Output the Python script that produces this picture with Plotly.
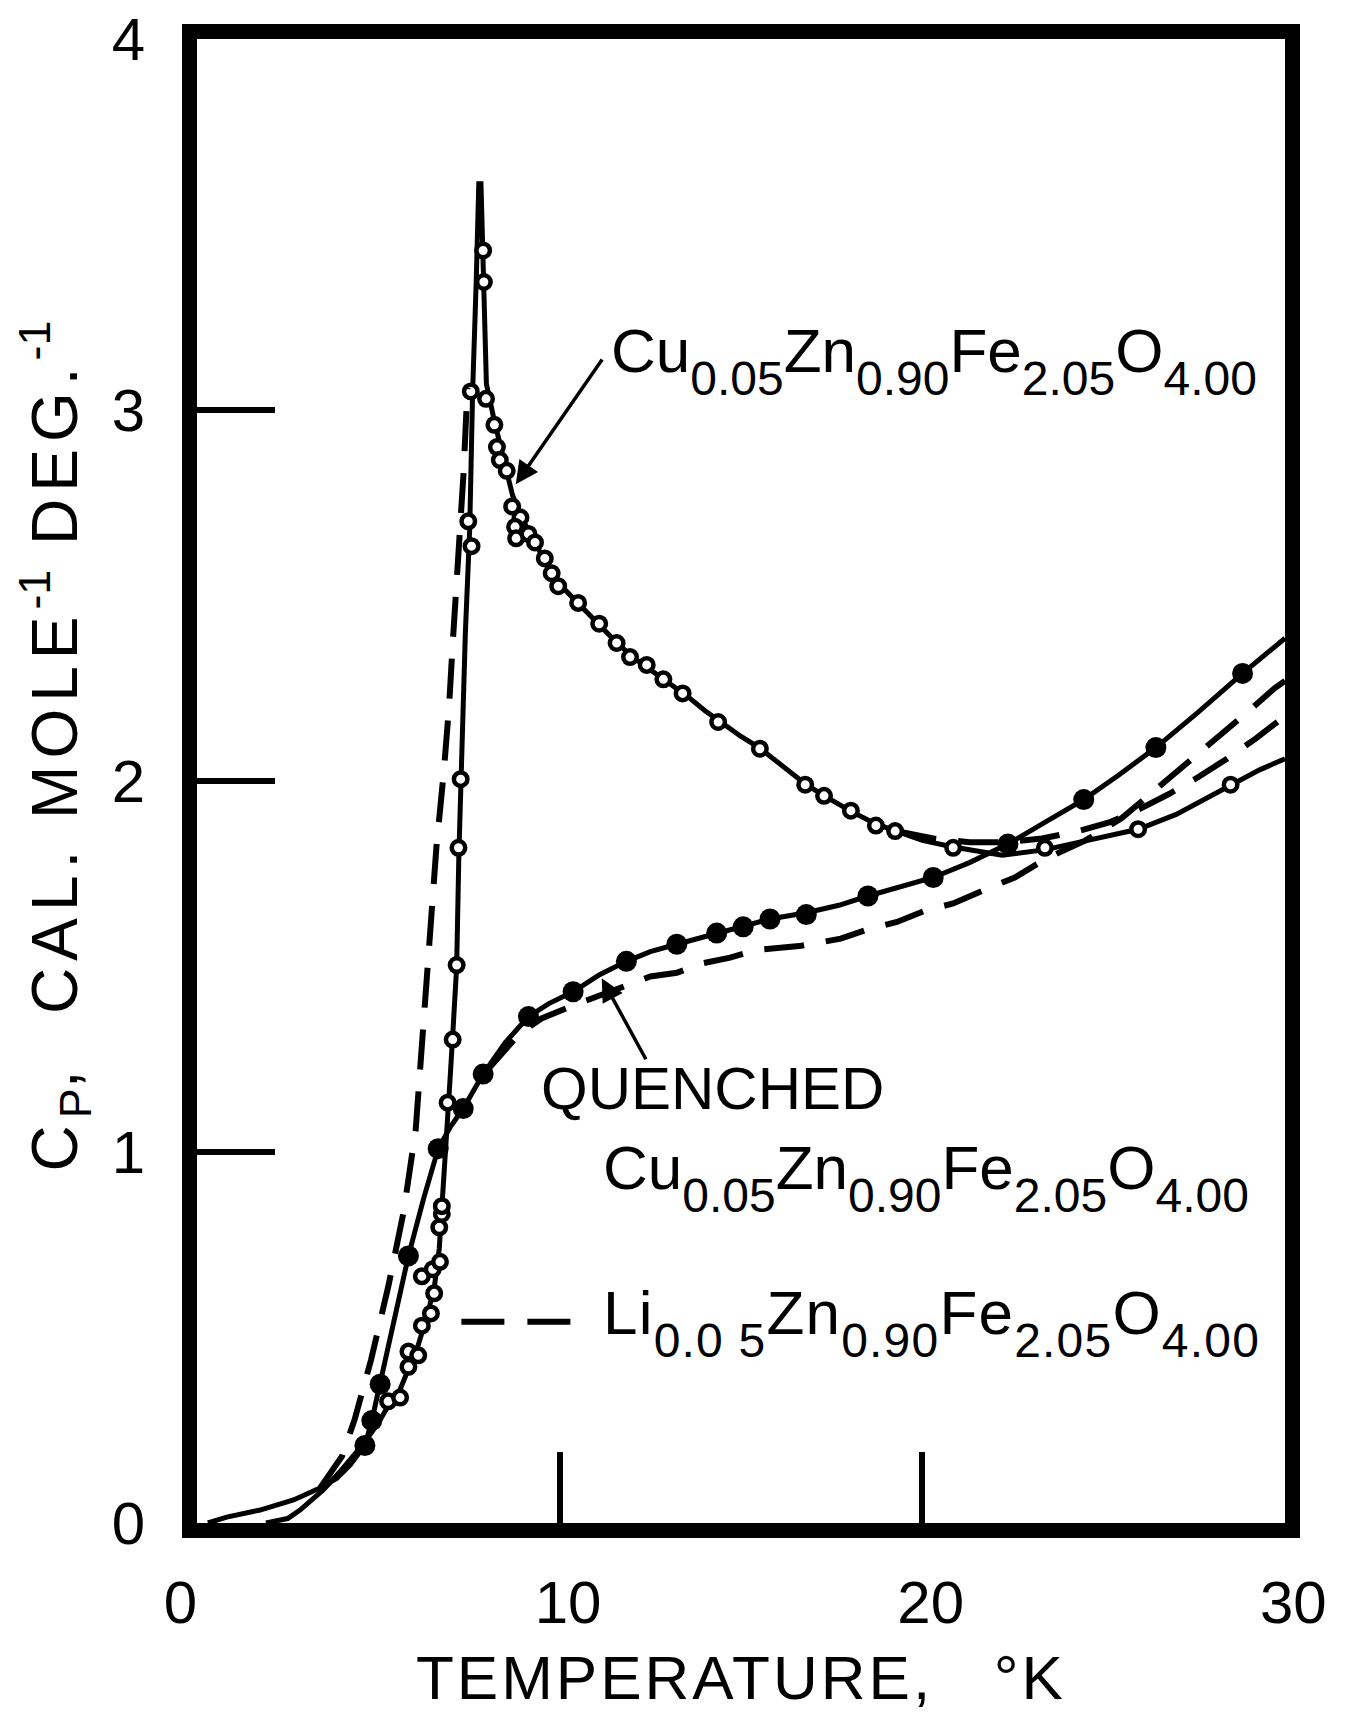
import plotly.graph_objects as go

# ---------------- data ----------------
# Cu0.05Zn0.90Fe2.05O4.00 (open circles) measured points
cu_slow_T = [5.27, 5.60, 5.83, 5.83, 6.10, 6.20, 6.20, 6.45, 6.54, 6.50, 6.70, 6.68, 6.75, 6.75,
             6.91, 7.05, 7.16, 7.21, 7.27, 7.48, 7.57, 7.55, 7.89, 7.91, 7.97, 8.20, 8.27, 8.35,
             8.54, 8.69, 8.92, 8.77, 8.80, 9.14, 9.32, 9.59, 9.78, 9.96, 10.51, 11.09, 11.57,
             11.94, 12.40, 12.86, 13.39, 14.37, 15.52, 16.77, 17.29, 18.03, 18.72, 19.25, 20.85,
             23.38, 25.95, 28.50]
cu_slow_Cp = [0.328, 0.338, 0.421, 0.462, 0.452, 0.532, 0.665, 0.565, 0.619, 0.684, 0.704, 0.797,
              0.833, 0.854, 1.133, 1.303, 1.504, 1.82, 2.005, 2.70, 2.633, 3.05, 3.43, 3.345, 3.03,
              2.96, 2.90, 2.865, 2.836, 2.74, 2.71, 2.685, 2.654, 2.666, 2.643, 2.60, 2.56, 2.525,
              2.48, 2.424, 2.372, 2.334, 2.313, 2.274, 2.236, 2.159, 2.087, 1.99, 1.96, 1.92, 1.88,
              1.865, 1.82, 1.82, 1.87, 1.99]

# Cu0.05Zn0.90Fe2.05O4.00 smooth curve
cu_slow_curve_T = [1.9, 2.5, 2.84, 3.48, 3.94, 4.22, 4.6, 5.0, 5.3, 5.6, 5.85, 6.1, 6.35, 6.55, 6.68,
                   6.78, 6.88, 6.98, 7.06, 7.16, 7.22, 7.27, 7.4, 7.52, 7.6, 7.7, 7.77, 7.83, 7.87,
                   7.92, 7.98, 8.2, 8.4, 8.7, 9.0, 9.5, 10.0, 10.5, 11.0, 11.5, 12.0, 12.5, 13.0,
                   13.5, 14.0, 14.5, 15.0, 15.5, 16.0, 16.8, 17.3, 18.0, 18.7, 19.25, 20.0, 20.85,
                   21.5, 22.2, 23.4, 24.5, 25.95, 27.0, 28.5, 29.3, 30.0]
cu_slow_curve_Cp = [0.0, 0.012, 0.035, 0.089, 0.138, 0.17, 0.215, 0.27, 0.32, 0.36, 0.42, 0.48, 0.56,
                    0.64, 0.74, 0.88, 1.05, 1.2, 1.33, 1.5, 1.8, 2.0, 2.4, 2.68, 3.05, 3.35, 3.61,
                    3.61, 3.45, 3.25, 3.07, 2.97, 2.89, 2.77, 2.70, 2.61, 2.53, 2.48, 2.43, 2.38,
                    2.335, 2.30, 2.265, 2.23, 2.19, 2.155, 2.12, 2.09, 2.05, 1.99, 1.96, 1.92, 1.885,
                    1.865, 1.84, 1.822, 1.81, 1.80, 1.815, 1.84, 1.87, 1.91, 1.99, 2.03, 2.06]

# Quenched Cu0.05Zn0.90Fe2.05O4.00 (filled circles)
cu_q_T = [4.63, 4.82, 5.05, 5.83, 6.65, 7.34, 7.89, 9.14, 10.37, 11.84, 13.23, 14.33, 15.06, 15.80,
          16.8, 18.5, 20.3, 22.36, 24.45, 26.44, 28.83]
cu_q_Cp = [0.209, 0.276, 0.374, 0.72, 1.009, 1.117, 1.21, 1.365, 1.432, 1.514, 1.56, 1.59, 1.607,
           1.628, 1.64, 1.69, 1.74, 1.83, 1.95, 2.09, 2.29]

cu_q_curve_T = [0.3, 0.82, 1.74, 2.66, 3.3, 3.85, 4.22, 4.63, 4.82, 5.05, 5.4, 5.83, 6.25, 6.65, 7.0,
                7.34, 7.89, 8.5, 9.14, 9.7, 10.37, 11.1, 11.84, 12.5, 13.23, 14.33, 15.06, 15.8,
                16.8, 17.7, 18.5, 19.4, 20.3, 21.3, 22.36, 23.4, 24.45, 25.4, 26.44, 27.6, 28.83, 30.0]
cu_q_curve_Cp = [0.0, 0.016, 0.035, 0.062, 0.09, 0.12, 0.156, 0.21, 0.276, 0.374, 0.53, 0.72, 0.875,
                 1.009, 1.07, 1.117, 1.21, 1.295, 1.365, 1.40, 1.432, 1.478, 1.514, 1.54, 1.56, 1.59,
                 1.607, 1.628, 1.645, 1.665, 1.69, 1.715, 1.74, 1.78, 1.83, 1.89, 1.95, 2.015, 2.09,
                 2.185, 2.29, 2.385]

# Li0.05Zn0.90Fe2.05O4.00 (dashed)
li_T = [3.40, 3.80, 4.00, 4.35, 4.80, 5.28, 5.70, 6.03, 6.20, 6.40, 6.60, 6.80, 6.95, 7.05, 7.20,
        7.35, 7.42, 7.46, None, 8.00, 8.90, 9.50, 10.50, 11.66, 12.50, 13.23, 13.95, 14.70, 15.44,
        16.60, 17.75, 18.50, 19.30, 20.07, 20.85, 21.80, 22.55, 23.40, 24.50, 25.50, 26.35, 27.13,
        27.81, 28.49, 28.98, 29.71, 30.0]
li_Cp = [0.095, 0.15, 0.18, 0.28, 0.44, 0.64, 0.84, 1.06, 1.28, 1.55, 1.82, 2.02, 2.2, 2.37, 2.58,
         2.83, 2.98, 3.06, None, 1.22, 1.32, 1.36, 1.40, 1.442, 1.473, 1.483, 1.509, 1.524, 1.545,
         1.555, 1.575, 1.60, 1.62, 1.65, 1.67, 1.71, 1.74, 1.79, 1.84, 1.90, 1.97, 2.035, 2.088,
         2.142, 2.187, 2.25, 2.27]

# second dashed curve near the minimum of the open-circle curve
extra_dash_T = [19.3, 20.3, 21.3, 22.3, 23.3, 24.3, 25.2, 26.0, 26.8, 27.6, 28.4, 29.2, 30.0]
extra_dash_Cp = [1.865, 1.845, 1.835, 1.835, 1.845, 1.865, 1.89, 1.925, 1.965, 2.01, 2.06, 2.115, 2.175]

x_label_vals = [0, 10, 20, 30]
x_label_text = ["0\u00a0\u00a0", "\u00a010", "\u00a020", "\u00a030"]
x_tick_marks = [10, 20]
y_label_vals = [0, 1, 2, 3, 4]
y_label_text = ["0", "1", "2", "3", "4"]
y_tick_marks = [1, 2, 3]

# ---------------- figure ----------------
FONT = "Liberation Sans"
BLACK = "black"

fig = go.Figure()

fig.add_trace(go.Scatter(x=cu_slow_curve_T, y=cu_slow_curve_Cp, mode="lines",
                         line=dict(color=BLACK, width=5), hoverinfo="skip"))
fig.add_trace(go.Scatter(x=cu_q_curve_T, y=cu_q_curve_Cp, mode="lines",
                         line=dict(color=BLACK, width=5), hoverinfo="skip"))
# Li curve drawn on the overlay axes (same ranges) so that the tick-mark axes are rendered
fig.add_trace(go.Scatter(x=li_T, y=li_Cp, mode="lines", connectgaps=False, xaxis="x2", yaxis="y2",
                         line=dict(color=BLACK, width=6, dash="40px,22px"), hoverinfo="skip"))
fig.add_trace(go.Scatter(x=extra_dash_T, y=extra_dash_Cp, mode="lines",
                         line=dict(color=BLACK, width=6, dash="40px,22px"), hoverinfo="skip"))
fig.add_trace(go.Scatter(x=cu_slow_T, y=cu_slow_Cp, mode="markers",
                         marker=dict(symbol="circle", size=13.5, color="white",
                                     line=dict(color=BLACK, width=4.5))))
fig.add_trace(go.Scatter(x=cu_q_T, y=cu_q_Cp, mode="markers",
                         marker=dict(symbol="circle", size=21, color=BLACK,
                                     line=dict(width=0))))

axis_common = dict(showgrid=False, zeroline=False, automargin=False)

# page body has an 8px default margin: the figure is placed accordingly
fig.update_layout(
    width=1337, height=1704, autosize=False,
    margin=dict(l=189, r=60, t=31, b=189, pad=0, autoexpand=False),
    paper_bgcolor="white", plot_bgcolor="white",
    showlegend=False,
    font=dict(family=FONT, color=BLACK),
    xaxis=dict(range=[0, 30], showline=True, linewidth=15, linecolor=BLACK, mirror=True,
               ticks="", tickmode="array", tickvals=x_label_vals, ticktext=x_label_text,
               tickfont=dict(family=FONT, size=60, color=BLACK), ticklabelstandoff=13,
               ticklabeloverflow="allow", **axis_common),
    yaxis=dict(range=[0, 4], showline=True, linewidth=15, linecolor=BLACK, mirror=True,
               ticks="", tickmode="array", tickvals=y_label_vals, ticktext=y_label_text,
               tickfont=dict(family=FONT, size=60, color=BLACK), ticklabelstandoff=25,
               ticklabeloverflow="allow", **axis_common),
    xaxis2=dict(range=[0, 30], overlaying="x", anchor="y2", side="bottom", showline=False,
                ticks="inside", tickmode="array", tickvals=x_tick_marks, ticklen=71, tickwidth=6,
                tickcolor=BLACK, showticklabels=False, **axis_common),
    yaxis2=dict(range=[0, 4], overlaying="y", anchor="x2", side="left", showline=False,
                ticks="inside", tickmode="array", tickvals=y_tick_marks, ticklen=78, tickwidth=6,
                tickcolor=BLACK, showticklabels=False, **axis_common),
)

SUB_SIZE = 48
SUB_SHIFT = 23


def formula(parts, spacing=0):
    ls = f"letter-spacing:{spacing}px;" if spacing else ""
    out = ""
    for elem, sub in parts:
        if ls:
            out += f'<span style="{ls}">{elem}</span>'
        else:
            out += elem
        out += (f'<span style="{ls}font-size:{SUB_SIZE}px;'
                f'baseline-shift:-{SUB_SHIFT}px">{sub}</span>')
    return out


cu_formula = formula([("Cu", "0.05"), ("Zn", "0.90"), ("Fe", "2.05"), ("O", "4.00")])
li_formula = formula([("Li", "0.0\u00a05"), ("Zn", "0.90"), ("Fe", "2.05"), ("O", "4.00")],
                     spacing=1.2)

LS = 'style="letter-spacing:7px"'
y_title = (f'<span {LS}>C</span><sub>P</sub><span {LS}>,\u00a0\u00a0CAL.\u00a0MOLE</span>'
           f'<sup>-1</sup><span {LS}>\u00a0DEG.</span><sup>-1</sup>')
x_title = '<span style="letter-spacing:3px">TEMPERATURE,\u00a0\u00a0\u00a0°K</span>'

annotations = [
    dict(x=11.36, y=3.26, xref="x", yref="y", text=cu_formula, showarrow=False,
         xanchor="left", yanchor="top", font=dict(size=62, family=FONT, color=BLACK)),
    dict(x=9.43, y=1.268, xref="x", yref="y", text="QUENCHED", showarrow=False,
         xanchor="left", yanchor="top", font=dict(size=60, family=FONT, color=BLACK)),
    dict(x=11.14, y=1.057, xref="x", yref="y", text=cu_formula, showarrow=False,
         xanchor="left", yanchor="top", font=dict(size=62, family=FONT, color=BLACK)),
    dict(x=11.14, y=0.666, xref="x", yref="y", text=li_formula, showarrow=False,
         xanchor="left", yanchor="top", font=dict(size=62, family=FONT, color=BLACK)),
    # arrows
    dict(x=8.79, y=2.80, ax=11.2, ay=3.14, xref="x", yref="y", axref="x", ayref="y",
         text="", showarrow=True, arrowhead=2, arrowsize=1.3, arrowwidth=3.5,
         arrowcolor=BLACK, standoff=0, startstandoff=0),
    dict(x=11.16, y=1.468, ax=12.4, ay=1.246, xref="x", yref="y", axref="x", ayref="y",
         text="", showarrow=True, arrowhead=2, arrowsize=1.3, arrowwidth=3.5,
         arrowcolor=BLACK, standoff=0, startstandoff=0),
    # axis titles
    dict(x=0.5, y=-0.1038, xref="paper", yref="paper", showarrow=False,
         text=x_title, xanchor="center", yanchor="middle",
         font=dict(size=62, family=FONT, color=BLACK)),
    dict(x=-0.131, y=0.5236, xref="paper", yref="paper", showarrow=False, textangle=-90,
         text=y_title, xanchor="center", yanchor="middle",
         font=dict(size=64, family=FONT, color=BLACK)),
]
fig.update_layout(annotations=annotations)

# legend key for the dashed curve
fig.add_shape(type="line", xref="x", yref="y", x0=7.29, x1=10.31, y0=0.5426, y1=0.5426,
              line=dict(color=BLACK, width=6, dash="43px,23px"))

fig.write_html("out.html")
